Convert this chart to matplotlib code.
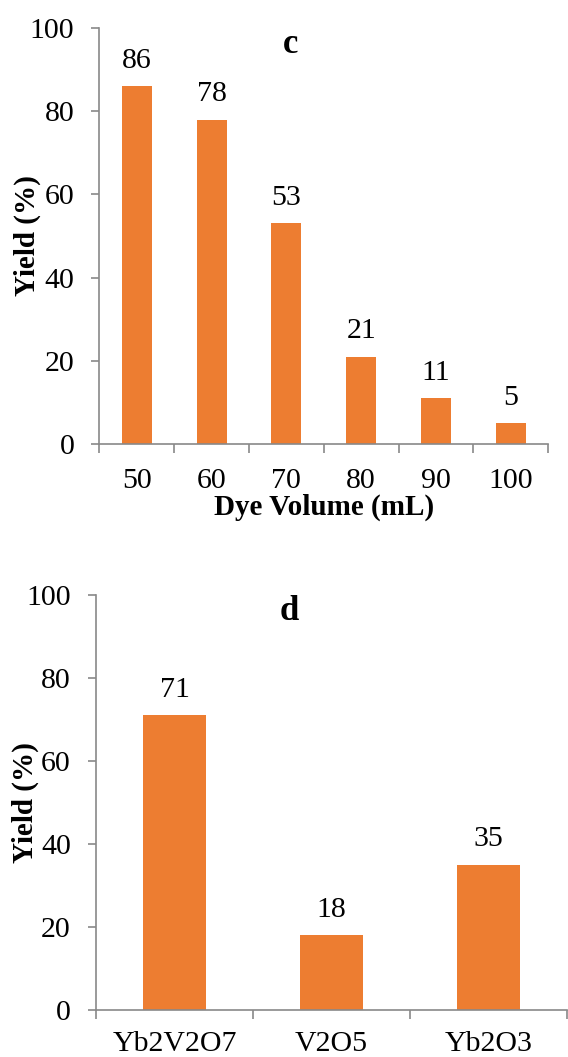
import matplotlib
matplotlib.use("Agg")
import matplotlib.pyplot as plt
import numpy as np

plt.rcParams['font.family'] = ['Liberation Serif', 'DejaVu Serif']

volumes = ["50", "60", "70", "80", "90", "100"]
yield_c = [86, 78, 53, 21, 11, 5]
catalysts = ["Yb2V2O7", "V2O5", "Yb2O3"]
yield_d = [71, 18, 35]

orange = "#ED7D31"
gray = "#898989"

fig = plt.figure(figsize=(5.68, 10.57), dpi=100)
ax1 = fig.add_axes([0.175, 0.580, 0.790, 0.3935])
ax2 = fig.add_axes([0.169, 0.0445, 0.829, 0.3925])

FS = 21.5

def style(ax, cats, vals, title, tx, ylabx, xpad, xlabel=None):
    x = np.arange(len(cats))
    ax.bar(x, vals, width=0.4, color=orange, zorder=2)
    ax.set_xlim(-0.5, len(cats) - 0.5)
    ax.set_ylim(0, 100)
    ax.set_yticks([0, 20, 40, 60, 80, 100])
    ax.set_xticks(x)
    ax.set_xticklabels(cats)
    ax.set_xticks(np.arange(len(cats) + 1) - 0.5, minor=True)
    for s in ['top', 'right']:
        ax.spines[s].set_visible(False)
    for s in ['left', 'bottom']:
        ax.spines[s].set_color(gray)
        ax.spines[s].set_linewidth(1.2)
    ax.tick_params(axis='x', which='major', length=0, pad=xpad, labelsize=FS)
    ax.tick_params(axis='x', which='minor', length=6.5, width=1.2, color=gray, direction='out')
    ax.tick_params(axis='y', which='major', length=6, width=1.2, color=gray, pad=12, labelsize=FS)
    for xi, v in zip(x, vals):
        ax.annotate(str(v), (xi, v), xytext=(0, 9), textcoords='offset points',
                    ha='center', va='bottom', fontsize=FS)
    ax.text(tx, 0.96, title, transform=ax.transAxes, ha='center', va='center',
            fontsize=25, fontweight='bold')
    ax.set_ylabel("Yield (%)", fontsize=21, fontweight='bold')
    ax.yaxis.set_label_coords(ylabx, 0.5)
    if xlabel:
        ax.set_xlabel(xlabel, fontsize=21, fontweight='bold', labelpad=0)

style(ax1, volumes, yield_c, "c", 0.425, -0.130, 17, "Dye Volume (mL)")
style(ax2, catalysts, yield_d, "d", 0.41, -0.122, 15)

fig.savefig("out.png", dpi=100)
